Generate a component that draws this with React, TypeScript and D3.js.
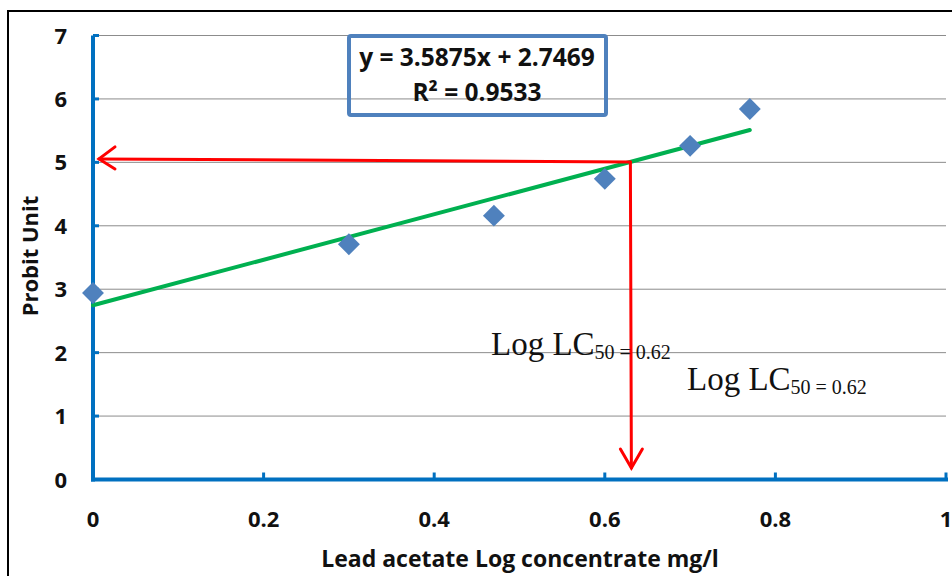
import React from "react";
import * as d3 from "d3";

// data
const logConc = [0, 0.3, 0.47, 0.6, 0.7, 0.77];
const probit = [2.94, 3.71, 4.16, 4.74, 5.26, 5.84];
const yTicks = [0, 1, 2, 3, 4, 5, 6, 7];
const xTicks = [0, 0.2, 0.4, 0.6, 0.8, 1];
const slope = 3.5875;
const intercept = 2.7469;
const lc50 = 0.63;

const W = 952;
const H = 576;
const blue = "#0070C0";
const markerBlue = "#4F81BD";

export default function App() {
  const x = d3.scaleLinear().domain([0, 1]).range([93, 946]);
  const y = d3.scaleLinear().domain([0, 7]).range([479.5, 35.5]);

  const fitX = [0, d3.max(logConc) as number];
  const line = d3
    .line<number>()
    .x(d => x(d))
    .y(d => y(slope * d + intercept));

  const diamond = d3.symbol().type(d3.symbolSquare).size(240);
  const lcY = y(slope * lc50 + intercept);
  const tickFont = "'Open Sans', 'DejaVu Sans', sans-serif";

  return (
    <svg
      width={W}
      height={H}
      style={{ position: "absolute", left: 0, top: 0, background: "#fff" }}
    >
      <rect x={8} y={11} width={980} height={620} fill="none" stroke="#000" strokeWidth={2} />

      {/* gridlines */}
      {yTicks.filter(t => t > 0).map(t => (
        <line key={t} x1={x(0)} x2={x(1)} y1={y(t)} y2={y(t)} stroke="#8c8c8c" strokeWidth={1} />
      ))}

      {/* axes */}
      <line x1={x(0)} x2={x(0)} y1={y(7)} y2={y(0) + 2} stroke={blue} strokeWidth={4} />
      <line x1={x(0) - 2} x2={x(1) + 2} y1={y(0)} y2={y(0)} stroke={blue} strokeWidth={4} />
      {yTicks.map(t => (
        <line key={t} x1={x(0)} x2={x(0) + 6} y1={y(t)} y2={y(t)} stroke={blue} strokeWidth={3} />
      ))}
      {xTicks.map(t => (
        <line key={t} x1={x(t)} x2={x(t)} y1={y(0)} y2={y(0) - 7} stroke={blue} strokeWidth={3} />
      ))}

      {/* tick labels */}
      {yTicks.map(t => (
        <text key={t} x={67} y={y(t) + 8} textAnchor="end" fontFamily={tickFont} fontWeight="bold" fontSize={22} fill="#111">
          {t}
        </text>
      ))}
      {xTicks.map(t => (
        <text key={t} x={x(t)} y={527} textAnchor="middle" fontFamily={tickFont} fontWeight="bold" fontSize={22} fill="#111">
          {t}
        </text>
      ))}

      {/* axis titles */}
      <text x={520} y={567} textAnchor="middle" fontFamily={tickFont} fontWeight="bold" fontSize={23} fill="#111">
        Lead acetate Log concentrate mg/l
      </text>
      <text
        transform={`translate(38,256) rotate(-90)`}
        textAnchor="middle"
        fontFamily={tickFont}
        fontWeight="bold"
        fontSize={22}
        fill="#111"
      >
        Probit Unit
      </text>

      {/* trend line */}
      <path d={line(fitX) || ""} fill="none" stroke="#00B050" strokeWidth={4} strokeLinecap="round" />

      {/* points */}
      {logConc.map((v, i) => (
        <path
          key={i}
          d={diamond() || ""}
          transform={`translate(${x(v)},${y(probit[i])}) rotate(45)`}
          fill={markerBlue}
        />
      ))}

      {/* LC50 arrows */}
      <g stroke="#FF0000" strokeWidth={3} fill="none" strokeLinecap="round">
        <line x1={x(lc50)} y1={lcY} x2={x(0) + 6} y2={lcY - 3} />
        <polyline points={`${x(0) + 22},${lcY - 15} ${x(0) + 6},${lcY - 3} ${x(0) + 22},${lcY + 7}`} />
        <line x1={x(lc50)} y1={lcY} x2={x(lc50) + 1} y2={468} />
        <polyline points={`${x(lc50) - 10},${449} ${x(lc50) + 1},${468} ${x(lc50) + 12},${449}`} />
      </g>

      {/* equation box (transparent, gridline shows through) */}
      <rect x={349} y={36} width={257} height={79} rx={2} fill="none" stroke={markerBlue} strokeWidth={4} />
      <text x={477} y={66} textAnchor="middle" fontFamily={tickFont} fontWeight="bold" fontSize={24.5} fill="#111">
        y = 3.5875x + 2.7469
      </text>
      <text x={477} y={101} textAnchor="middle" fontFamily={tickFont} fontWeight="bold" fontSize={24.5} fill="#111">
        R² = 0.9533
      </text>

      {/* LC50 labels */}
      {[
        { lx: 491, ly: 355 },
        { lx: 687, ly: 390 },
      ].map((p, i) => (
        <text key={i} x={p.lx} y={p.ly} fontFamily="'Liberation Serif', 'DejaVu Serif', serif" fontSize={33} fill="#111">
          Log LC
          <tspan fontSize={20} dy={4}>50 = 0.62</tspan>
        </text>
      ))}
    </svg>
  );
}
